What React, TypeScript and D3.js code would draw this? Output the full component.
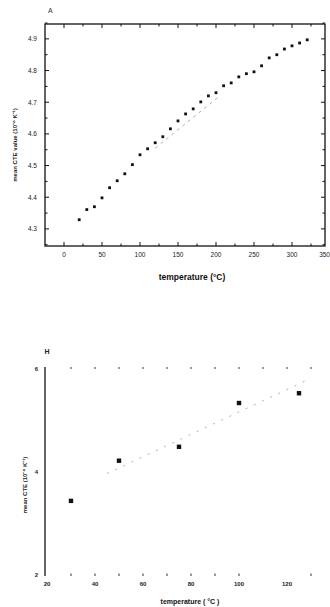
import React, { useEffect, useRef } from "react";
import * as d3 from "d3";

// panel A: value vs temperature
const tempA = [20, 30, 40, 50, 60, 70, 80, 90, 100, 110, 120, 130, 140, 150, 160, 170, 180, 190, 200, 210, 220, 230, 240, 250, 260, 270, 280, 290, 300, 310, 320];
const valA = [4.329, 4.361, 4.37, 4.398, 4.43, 4.452, 4.474, 4.503, 4.534, 4.553, 4.572, 4.591, 4.616, 4.641, 4.663, 4.679, 4.701, 4.72, 4.73, 4.752, 4.761, 4.78, 4.79, 4.796, 4.815, 4.84, 4.85, 4.868, 4.878, 4.887, 4.897];
const fitTempA = [120, 205];
const fitValA = [4.555, 4.72];
const xTicksA = [0, 50, 100, 150, 200, 250, 300, 350];
const yTicksA = [4.3, 4.4, 4.5, 4.6, 4.7, 4.8, 4.9];

// panel B
const tempB = [30, 50, 75, 100, 125];
const valB = [3.42, 4.2, 4.47, 5.32, 5.51];
const fitTempB = [45, 130];
const fitValB = [3.95, 5.8];
const xTicksB = [20, 40, 60, 80, 100, 120];
const yTicksB = [2, 4, 6];

const App = () => {
  const svgRef = useRef<SVGSVGElement>(null);

  useEffect(() => {
    const svg = d3.select(svgRef.current);
    svg.selectAll("*").remove();
    const font = "Liberation Sans, Arial, sans-serif";

    // ---------- panel A ----------
    const xA = d3.scaleLinear().domain([-25, 350]).range([45, 330]);
    const yA = d3.scaleLinear().domain([4.246, 4.947]).range([246, 24]);
    const leftA = 45, rightA = 325, topA = 24, botA = 246;

    const gA = svg.append("g");
    gA.append("rect")
      .attr("x", leftA).attr("y", topA)
      .attr("width", rightA - leftA).attr("height", botA - topA)
      .attr("fill", "none").attr("stroke", "#111").attr("stroke-width", 1.3);

    // x ticks (major 50, minor 25) on bottom and top
    d3.range(0, 350, 25).forEach((t) => {
      const major = t % 50 === 0;
      const len = major ? 4 : 2.5;
      gA.append("line").attr("x1", xA(t)).attr("x2", xA(t))
        .attr("y1", botA).attr("y2", botA - len).attr("stroke", "#111");
      gA.append("line").attr("x1", xA(t)).attr("x2", xA(t))
        .attr("y1", topA).attr("y2", topA + len).attr("stroke", "#111");
    });
    xTicksA.forEach((t, i) => {
      const last = i === xTicksA.length - 1;
      gA.append("text").attr("x", last ? 330 : xA(t)).attr("y", botA + 11)
        .attr("text-anchor", last ? "end" : "middle").attr("font-size", 6.5)
        .attr("font-family", font).attr("fill", "#222").text(t);
    });
    // y ticks (major 0.1, minor 0.05) on left and right
    d3.range(4.25, 4.95, 0.05).forEach((v) => {
      const major = Math.abs(Math.round(v * 10) - v * 10) < 0.01;
      const len = major ? 4 : 2.5;
      gA.append("line").attr("x1", leftA).attr("x2", leftA + len)
        .attr("y1", yA(v)).attr("y2", yA(v)).attr("stroke", "#111");
      gA.append("line").attr("x1", rightA).attr("x2", rightA - len)
        .attr("y1", yA(v)).attr("y2", yA(v)).attr("stroke", "#111");
    });
    yTicksA.forEach((v) => {
      gA.append("text").attr("x", 37).attr("y", yA(v) + 2.5)
        .attr("text-anchor", "end").attr("font-size", 6.5)
        .attr("font-family", font).attr("fill", "#222").text(v.toFixed(1));
    });

    gA.append("path")
      .datum(fitTempA.map((t, i) => [t, fitValA[i]] as [number, number]))
      .attr("fill", "none").attr("stroke", "#999").attr("stroke-width", 0.8)
      .attr("stroke-dasharray", "3,4")
      .attr("d", d3.line().x((d) => xA(d[0])).y((d) => yA(d[1])));

    gA.selectAll(".ptA").data(tempA).enter().append("rect")
      .attr("x", (d) => xA(d) - 1.4)
      .attr("y", (d, i) => yA(valA[i]) - 1.4)
      .attr("width", 2.8).attr("height", 2.8).attr("fill", "#111");

    gA.append("text").attr("x", 48).attr("y", 13)
      .attr("font-size", 7).attr("font-family", font).attr("fill", "#333").text("A");
    gA.append("text").attr("x", 192).attr("y", 280)
      .attr("text-anchor", "middle").attr("font-size", 8.5).attr("font-weight", "bold")
      .attr("font-family", font).attr("fill", "#111").text("temperature (°C)");
    gA.append("text")
      .attr("transform", "translate(17,145) rotate(-90)")
      .attr("text-anchor", "middle").attr("font-size", 6).attr("font-weight", "bold")
      .attr("font-family", font).attr("fill", "#222").text("mean CTE value (10⁻⁶ K⁻¹)");

    // ---------- panel B ----------
    const xB = d3.scaleLinear().domain([20, 130]).range([47, 311]);
    const yB = d3.scaleLinear().domain([2, 6]).range([574, 368]);
    const topB = 367, botB = 576;

    const gB = svg.append("g");
    gB.append("line").attr("x1", 45).attr("x2", 45)
      .attr("y1", topB).attr("y2", botB).attr("stroke", "#111").attr("stroke-width", 1.3);

    d3.range(30, 131, 10).forEach((t) => {
      gB.append("line").attr("x1", xB(t)).attr("x2", xB(t))
        .attr("y1", topB).attr("y2", topB + 2).attr("stroke", "#333");
      if (t <= 100 || t === 130) {
        gB.append("line").attr("x1", xB(t)).attr("x2", xB(t))
          .attr("y1", botB).attr("y2", botB - 2.5).attr("stroke", "#333");
      }
    });
    xTicksB.forEach((t) => {
      gB.append("text").attr("x", xB(t)).attr("y", botB + 10)
        .attr("text-anchor", "middle").attr("font-size", 6).attr("font-weight", "bold")
        .attr("font-family", font).attr("fill", "#222").text(t);
    });
    yTicksB.forEach((v) => {
      gB.append("text").attr("x", 38).attr("y", yB(v) + 2.5)
        .attr("text-anchor", "end").attr("font-size", 6).attr("font-weight", "bold")
        .attr("font-family", font).attr("fill", "#222").text(v);
    });

    gB.append("path")
      .datum(fitTempB.map((t, i) => [t, fitValB[i]] as [number, number]))
      .attr("fill", "none").attr("stroke", "#999").attr("stroke-width", 0.8)
      .attr("stroke-dasharray", "2,7")
      .attr("d", d3.line().x((d) => xB(d[0])).y((d) => yB(d[1])));

    gB.selectAll(".ptB").data(tempB).enter().append("rect")
      .attr("x", (d) => xB(d) - 2.2)
      .attr("y", (d, i) => yB(valB[i]) - 2.2)
      .attr("width", 4.4).attr("height", 4.4).attr("fill", "#111");

    gB.append("text").attr("x", 47).attr("y", 354)
      .attr("text-anchor", "middle").attr("font-size", 7).attr("font-weight", "bold")
      .attr("font-family", font).attr("fill", "#222").text("H");
    gB.append("text").attr("x", 190).attr("y", 604)
      .attr("text-anchor", "middle").attr("font-size", 7).attr("font-weight", "bold")
      .attr("font-family", font).attr("fill", "#111").text("temperature ( °C )");
    gB.append("text")
      .attr("transform", "translate(27,485) rotate(-90)")
      .attr("text-anchor", "middle").attr("font-size", 6).attr("font-weight", "bold")
      .attr("font-family", font).attr("fill", "#222").text("mean CTE (10⁻⁶ K⁻¹)");
  }, []);

  return (
    <svg
      ref={svgRef}
      width={330}
      height={607}
      style={{ position: "absolute", left: 0, top: 0, background: "#fff" }}
    />
  );
};

export default App;
